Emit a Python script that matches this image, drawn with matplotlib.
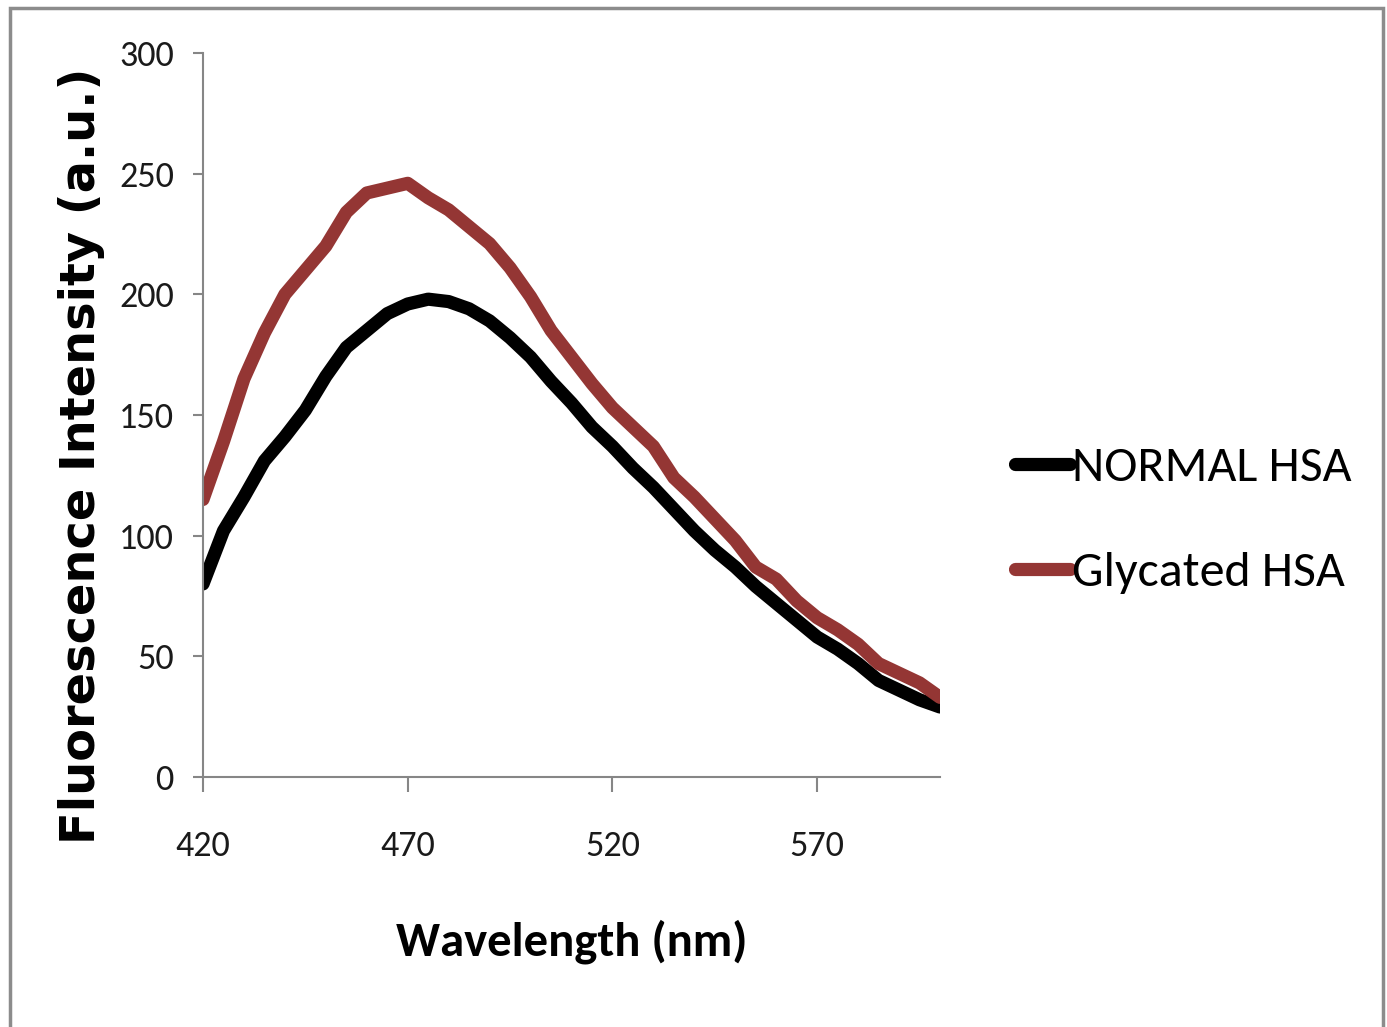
import matplotlib
matplotlib.use("Agg")
import matplotlib.pyplot as plt
from matplotlib.patches import Rectangle

# wavelength (nm) and intensities
wavelength = [420, 425, 430, 435, 440, 445, 450, 455, 460, 465, 470, 475, 480,
              485, 490, 495, 500, 505, 510, 515, 520, 525, 530, 535, 540, 545,
              550, 555, 560, 565, 570, 575, 580, 585, 590, 595, 600]
normal_hsa = [80, 102, 116, 131, 141, 152, 166, 178, 185, 192, 196, 198, 197,
              194, 189, 182, 174, 164, 155, 145, 137, 128, 120, 111, 102, 94,
              87, 79, 72, 65, 58, 53, 47, 40, 36, 32, 29]
glycated_hsa = [115, 139, 165, 184, 200, 210, 220, 234, 242, 244, 246, 240, 235,
                228, 221, 211, 199, 185, 174, 163, 153, 145, 137, 124, 116, 107,
                98, 87, 82, 73, 66, 61, 55, 47, 43, 39, 33]
series_names = ["NORMAL HSA", "Glycated HSA"]
x_ticks = [420, 470, 520, 570]
y_ticks = [0, 50, 100, 150, 200, 250, 300]

W, H = 1387, 1027
calibri = ["Carlito", "DejaVu Sans"]
axis_gray = "#868686"

fig = plt.figure(figsize=(W / 100, H / 100), dpi=100)
ax = fig.add_axes([203 / W, 1 - 777 / H, (940 - 203) / W, (777 - 53) / H])

ax.plot(wavelength, normal_hsa, color="black", lw=9.5, solid_capstyle="round",
        solid_joinstyle="round", label=series_names[0])
ax.plot(wavelength, glycated_hsa, color="#943634", lw=9.5, solid_capstyle="round",
        solid_joinstyle="round", label=series_names[1])

ax.set_xlim(420, 600)
ax.set_ylim(0, 300)
ax.set_xticks(x_ticks)
ax.set_yticks(y_ticks)
for s in ["top", "right"]:
    ax.spines[s].set_visible(False)
for s in ["left", "bottom"]:
    ax.spines[s].set_color(axis_gray)
    ax.spines[s].set_linewidth(1.5)
ax.tick_params(axis="both", colors=axis_gray, width=1.5, direction="out")
ax.tick_params(axis="y", pad=14, length=7)
ax.tick_params(axis="x", pad=27, length=11)
for lab in ax.get_xticklabels() + ax.get_yticklabels():
    lab.set_family(calibri)
    lab.set_fontsize(26)
    lab.set_color("#1a1a1a")

fig.text(572 / W, 1 - 942 / H, "Wavelength (nm)", family=calibri,
         fontweight="bold", fontsize=35, ha="center", va="center")
fig.text(82 / W, 1 - 456 / H, "Fluorescence Intensity (a.u.)",
         family="DejaVu Sans", fontweight="bold", fontsize=34.5,
         rotation=90, ha="center", va="center")

leg = fig.legend(handles=ax.get_lines(), loc="center left",
                 bbox_to_anchor=(1015 / W, 1 - 520 / H),
                 bbox_transform=fig.transFigure, frameon=False,
                 prop={"family": calibri, "size": 36}, handlelength=1.1,
                 handletextpad=0.05, labelspacing=1.24, borderpad=0,
                 borderaxespad=0)
for h in leg.get_lines():
    h.set_linewidth(9.5)

# outer chart frame
fig.patches.append(Rectangle((10 / W, -0.01), 1373 / W, 1.01 - 8 / H,
                             transform=fig.transFigure, fill=False,
                             edgecolor="#8c8c8c", lw=2.5))

fig.savefig("out.png", dpi=100)
